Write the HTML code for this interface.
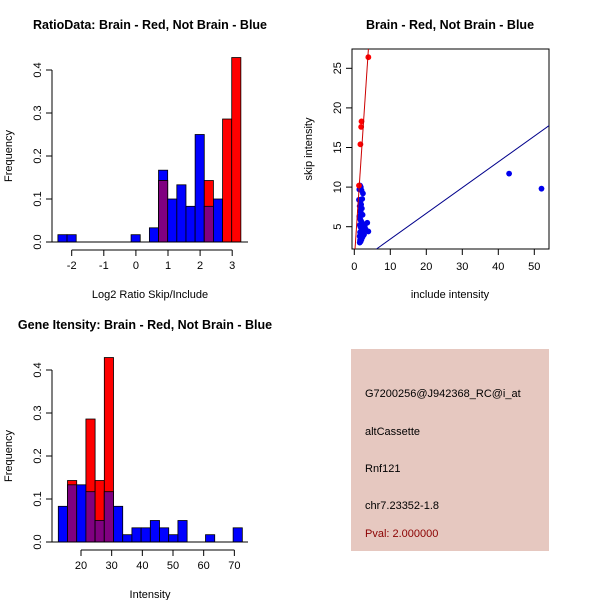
<!DOCTYPE html>
<html><head><meta charset="utf-8"><style>
body{margin:0;background:#fff;}
svg{display:block;font-family:"Liberation Sans",sans-serif;}
</style></head><body>
<svg id="c" width="600" height="600" viewBox="0 0 600 600">
<rect width="600" height="600" fill="#fff"/>
<text x="150" y="29" text-anchor="middle" font-weight="bold" font-size="12.5">RatioData: Brain - Red, Not Brain - Blue</text>
<text x="150" y="298" text-anchor="middle" font-size="11">Log2 Ratio Skip/Include</text>
<text transform="translate(12,156) rotate(-90)" text-anchor="middle" font-size="11">Frequency</text>
<text x="450" y="29" text-anchor="middle" font-weight="bold" font-size="12.5">Brain - Red, Not Brain - Blue</text>
<text x="450" y="298" text-anchor="middle" font-size="11">include intensity</text>
<text transform="translate(312,149) rotate(-90)" text-anchor="middle" font-size="11">skip intensity</text>
<text x="145" y="329" text-anchor="middle" font-weight="bold" font-size="12.5">Gene Itensity: Brain - Red, Not Brain - Blue</text>
<text x="150" y="598" text-anchor="middle" font-size="11">Intensity</text>
<text transform="translate(12,456) rotate(-90)" text-anchor="middle" font-size="11">Frequency</text>
<g>
<rect x="351" y="349" width="198" height="202" fill="#e6c8c0"/>
<text x="365" y="397" font-size="11">G7200256@J942368_RC@i_at</text>
<text x="365" y="435" font-size="11">altCassette</text>
<text x="365" y="472" font-size="11">Rnf121</text>
<text x="365" y="509" font-size="11">chr7.23352-1.8</text>
<text x="365" y="537" font-size="11" fill="#8b0000">Pval: 2.000000</text>
</g>
</svg>
<script>
// Ratio histogram data
const ratioStart = -2.43, ratioWidth = 0.285;
const ratioBlue = [0.017,0.017,0,0,0,0,0,0,0.017,0,0.033,0.167,0.1,0.133,0.083,0.25,0.083,0.1,0,0];
const ratioRed  = [0,0,0,0,0,0,0,0,0,0,0,0.143,0,0,0,0,0.143,0,0.286,0.429];
const ratioXTicks = [-2,-1,0,1,2,3];
// Intensity histogram data
const intStart = 12.6, intWidth = 3;
const intBlue = [0.083,0.133,0.133,0.117,0.05,0.117,0.083,0.017,0.033,0.033,0.05,0.033,0.017,0.05,0,0,0.017,0,0,0.033];
const intRed  = [0,0.143,0,0.286,0.143,0.429,0,0,0,0,0,0,0,0,0,0,0,0,0,0];
const intXTicks = [20,30,40,50,60,70];
const freqTicks = [0,0.1,0.2,0.3,0.4];
// Scatter data
const redX = [3.9,2.0,1.9,1.7,1.3];
const redY = [26.4,18.3,17.6,15.4,10.2];
const blueX = [43,52,1.6,1.8,2.0,1.4,2.4,2.2,1.3,1.7,1.9,1.5,2.1,1.6,1.8,2.3,3.6,3.9,2.6,2.9,1.4,1.6,1.8,2.0,2.2,1.5,1.7,1.9,2.1,2.5,2.8,1.6,1.8,2.0,1.5,1.7,1.9,2.3,2.7,3.1,1.6,1.8,1.5,1.7,2.0,2.4];
const blueY = [11.7,9.8,10.2,10.0,9.6,9.7,9.2,8.5,8.4,8.0,7.8,7.6,7.3,7.0,6.8,6.5,5.5,4.4,5.3,5.1,6.3,6.0,5.8,5.6,5.4,5.2,5.0,4.8,4.6,4.5,4.9,4.3,4.1,3.9,3.8,3.6,3.5,3.7,4.0,4.7,3.3,3.2,3.0,3.1,3.4,4.2];
const scatterXTicks = [0,10,20,30,40,50];
const scatterYTicks = [5,10,15,20,25];
const redFit = [0.8, 6.8];   // intercept, slope
const blueFit = [0.18, 0.325];

const svg = document.getElementById('c');
const NS = 'http://www.w3.org/2000/svg';
function mk(tag, attrs){const e=document.createElementNS(NS,tag);for(const k in attrs)e.setAttribute(k,attrs[k]);svg.appendChild(e);return e;}

function hist(name, start, width, blue, red, xTicks, xs, ys, axisY){
  const n = blue.length;
  for(let i=0;i<n;i++){
    const x0=xs(start+i*width), x1=xs(start+(i+1)*width);
    const b=blue[i], r=red[i];
    if(b>0){const e=mk('rect',{x:x0,y:ys(b),width:x1-x0,height:ys(0)-ys(b),fill:'#0000ff',stroke:'#000','stroke-width':0.8});
      
      }
    if(r>0){const e=mk('rect',{x:x0,y:ys(r),width:x1-x0,height:ys(0)-ys(r),fill:'#ff0000',stroke:'#000','stroke-width':0.8});
      
      }
    const m=Math.min(b,r);
    if(m>0){const e=mk('rect',{x:x0,y:ys(m),width:x1-x0,height:ys(0)-ys(m),fill:'#800080',stroke:'#000','stroke-width':0.8});
      
      }
  }
  const base=mk('line',{x1:51,x2:248,y1:ys(0),y2:ys(0),stroke:'#000'});
  
  
  const ya=mk('line',{x1:52,x2:52,y1:ys(0),y2:ys(0.4),stroke:'#000'});
  
  
  freqTicks.forEach(t=>{
    mk('line',{x1:46,x2:52,y1:ys(t),y2:ys(t),stroke:'#000'});
    const tx=mk('text',{transform:`translate(41,${ys(t)}) rotate(-90)`,'text-anchor':'middle','font-size':11});
    tx.textContent=t.toFixed(1);
    
    
  });
  const xa=mk('line',{x1:xs(xTicks[0]),x2:xs(xTicks[xTicks.length-1]),y1:axisY,y2:axisY,stroke:'#000'});
  
  
  xTicks.forEach(t=>{
    mk('line',{x1:xs(t),x2:xs(t),y1:axisY,y2:axisY+6,stroke:'#000'});
    const tx=mk('text',{x:xs(t),y:axisY+19,'text-anchor':'middle','font-size':11});
    tx.textContent=t;
    
    
  });
}
hist('ratio', ratioStart, ratioWidth, ratioBlue, ratioRed, ratioXTicks,
  v=>135.9+v*32.1, v=>242-v*430, 250);
hist('intensity', intStart, intWidth, intBlue, intRed, intXTicks,
  v=>81+(v-20)*3.067, v=>542-v*430, 550);

// scatter
const sx=v=>354.3+v*3.6, sy=v=>226.7-(v-5)*7.92;
const cp=mk('clipPath',{id:'sc'}); const cr=document.createElementNS(NS,'rect');
cr.setAttribute('x',352);cr.setAttribute('y',49);cr.setAttribute('width',197);cr.setAttribute('height',200);cp.appendChild(cr);
const box=mk('rect',{x:352,y:49,width:197,height:200,fill:'none',stroke:'#000'});


blueX.forEach((x,i)=>{const c=mk('circle',{cx:sx(x),cy:sy(blueY[i]),r:2.9,fill:'#0000ee'});
  
  });
redX.forEach((x,i)=>{const c=mk('circle',{cx:sx(x),cy:sy(redY[i]),r:2.9,fill:'#ff0000'});
  
  });
function fit(f,col,name){const x0=-1,x1=60;
  const l=mk('line',{x1:sx(x0),y1:sy(f[0]+f[1]*x0),x2:sx(x1),y2:sy(f[0]+f[1]*x1),stroke:col,'clip-path':'url(#sc)'});
  
  }
fit(redFit,'#cc0000','red-fit-line'); fit(blueFit,'#00008b','blue-fit-line');
scatterXTicks.forEach(t=>{mk('line',{x1:sx(t),x2:sx(t),y1:249,y2:255,stroke:'#000'});
  const tx=mk('text',{x:sx(t),y:270,'text-anchor':'middle','font-size':11});tx.textContent=t;
  
  });
scatterYTicks.forEach(t=>{mk('line',{x1:346,x2:352,y1:sy(t),y2:sy(t),stroke:'#000'});
  const tx=mk('text',{transform:`translate(341,${sy(t)}) rotate(-90)`,'text-anchor':'middle','font-size':11});tx.textContent=t;
  
  });
</script>
</body></html>
